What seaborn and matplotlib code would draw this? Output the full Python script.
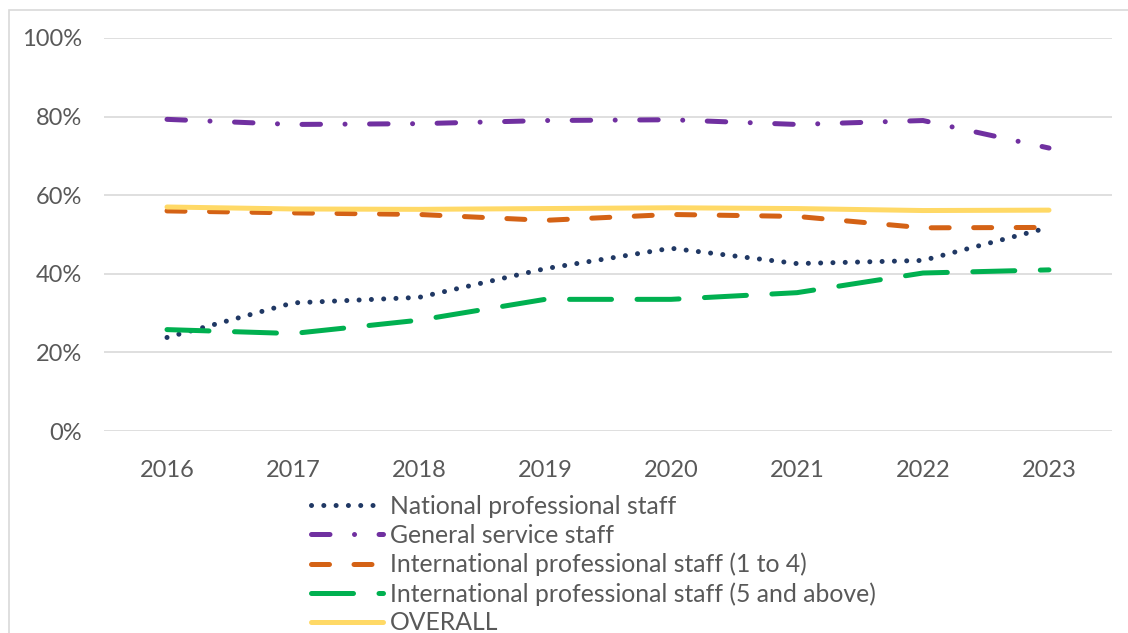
import matplotlib.pyplot as plt
import matplotlib.patches as mpatches
import pandas as pd
import seaborn as sns

years = [2016, 2017, 2018, 2019, 2020, 2021, 2022, 2023]
national = [23.8, 32.6, 34.0, 41.3, 46.5, 42.6, 43.4, 51.8]
general = [79.3, 78.0, 78.2, 79.0, 79.2, 78.0, 79.0, 72.0]
intl_1_4 = [56.0, 55.5, 55.1, 53.6, 55.1, 54.6, 51.7, 51.8]
intl_5 = [25.8, 24.8, 28.2, 33.5, 33.5, 35.2, 40.2, 41.0]
overall = [57.0, 56.5, 56.4, 56.6, 56.8, 56.6, 56.1, 56.2]

names = ['National professional staff', 'General service staff',
         'International professional staff (1 to 4)',
         'International professional staff (5 and above)', 'OVERALL']
series = [national, general, intl_1_4, intl_5, overall]
colors = ['#203864', '#7030A0', '#D46215', '#00B050', '#FFD966']
dashes = [(0.01, 2.45), (3.7, 4.9, 0.01, 4.9), (3.6, 4.9), (8.4, 5.1), None]

sns.set_theme(style='white')
plt.rcParams['font.family'] = ['Lato', 'DejaVu Sans']

fig = plt.figure(figsize=(11.28, 6.33), dpi=100)
ax = fig.add_axes([104 / 1128, 1 - 431 / 633, (1112 - 104) / 1128, (431 - 38) / 633])

for name, vals, col, d in zip(names, series, colors, dashes):
    df = pd.DataFrame({'year': years, 'value': [v / 100 for v in vals]})
    sns.lineplot(data=df, x='year', y='value', ax=ax, color=col, lw=3.6, label=name)
    ln = ax.lines[-1]
    ln.set_solid_capstyle('round')
    ln.set_dash_capstyle('round')
    if d is not None:
        ln.set_dashes(d)

ax.set_xlim(2015.5, 2023.5)
ax.set_ylim(0, 1)
ax.set_xticks(years)
ax.set_yticks([0, 0.2, 0.4, 0.6, 0.8, 1.0])
ax.set_yticklabels(['0%', '20%', '40%', '60%', '80%', '100%'])
ax.set_xlabel('')
ax.set_ylabel('')
ax.grid(axis='y', color='#D9D9D9', lw=1.2)
ax.set_axisbelow(True)
for s in ax.spines.values():
    s.set_visible(False)
ax.tick_params(axis='both', length=0, labelsize=17, labelcolor='#595959')
ax.tick_params(axis='x', pad=21)
ax.tick_params(axis='y', pad=16)

ax.get_legend().remove()
handles = ax.lines[:5]
fig.legend(handles, names, loc='upper left', bbox_to_anchor=(311 / 1128, 1 - 495 / 633),
           frameon=False, fontsize=17.8, labelcolor='#595959', handlelength=2.9,
           handletextpad=0.3, labelspacing=0.235, borderpad=0, borderaxespad=0)

fig.patches.append(mpatches.Rectangle((8.5 / 1128, -0.01), 1.0, 1 - 9.5 / 633 + 0.01,
                                      transform=fig.transFigure, fill=False,
                                      edgecolor='#D9D9D9', lw=1.2))

fig.savefig('out.png', dpi=100)
